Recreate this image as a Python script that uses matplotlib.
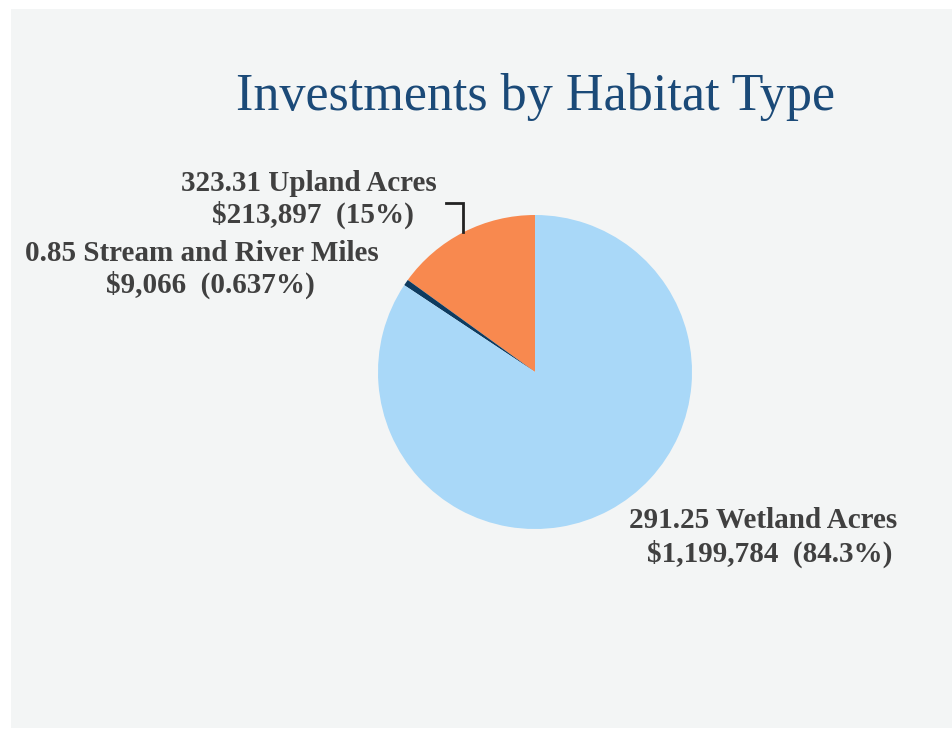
import matplotlib
matplotlib.use("Agg")
import matplotlib.pyplot as plt
import matplotlib.patches as patches

# data
habitats = ["Upland Acres", "Stream and River Miles", "Wetland Acres"]
quantities = ["323.31", "0.85", "291.25"]
amounts = [213897, 9066, 1199784]
percents = ["15%", "0.637%", "84.3%"]
colors = ["#F8894F", "#0E3B60", "#A9D8F8"]

W, H = 952, 729
fig = plt.figure(figsize=(W / 100, H / 100), dpi=100, facecolor="white")
ax = fig.add_axes([0, 0, 1, 1])

# grey slide panel
ax.add_patch(patches.Rectangle((11, 9), W - 11, H - 10, facecolor="#F3F5F5",
                               edgecolor="none", zorder=0))

# y axis runs downward (pixel coords), so angles are mirrored
ax.pie(amounts, colors=colors, startangle=-90, counterclock=False,
       center=(535, 372), radius=157,
       wedgeprops=dict(linewidth=0), frame=True)
ax.set_xlim(0, W)
ax.set_ylim(H, 0)
ax.set_aspect("equal")
ax.axis("off")

ax.text(536, 97, "Investments by Habitat Type", ha="center", va="center",
        fontsize=37.5, color="#1B4A78", family="Liberation Serif")

lab_pos = [(309, 183, 313, 215), (202, 253, 210, 285), (763, 521, 770, 554)]
for i, (x1, y1, x2, y2) in enumerate(lab_pos):
    ax.text(x1, y1, f"{quantities[i]} {habitats[i]}", ha="center", va="center",
            fontsize=21, fontweight="bold", color="#404040",
            family="Liberation Serif")
    ax.text(x2, y2, f"${amounts[i]:,}  ({percents[i]})", ha="center",
            va="center", fontsize=21, fontweight="bold", color="#404040",
            family="Liberation Serif")

# leader line for the upland slice
ax.plot([446, 463, 463], [203, 203, 232], color="#222222", lw=2,
        solid_joinstyle="miter")

fig.savefig("out.png", dpi=100, facecolor="white")
